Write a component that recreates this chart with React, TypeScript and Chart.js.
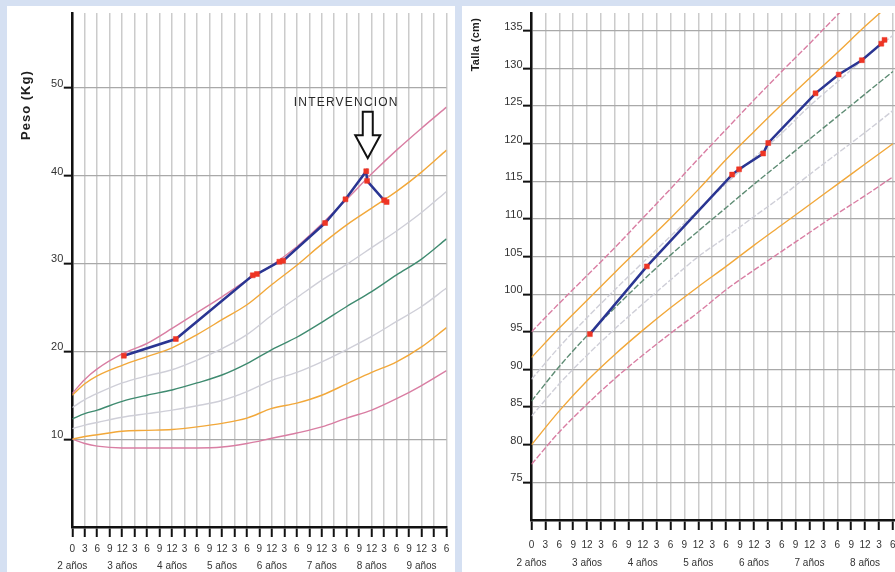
import React, { useEffect, useRef } from 'react';
import { Chart, registerables } from 'chart.js';

Chart.register(...registerables);

// ---------- Peso (kg) chart ----------
const weightMonths = [0, 3, 6, 12, 18, 24, 30, 36, 42, 48, 54, 60, 66, 72, 78, 84, 90];
const weightP97 = [15.2, 16.8, 18.0, 19.7, 20.9, 22.6, 24.4, 26.2, 28.1, 29.8, 31.9, 34.5, 37.3, 40.2, 42.9, 45.4, 47.8];
const weightP90 = [15.0, 16.3, 17.2, 18.4, 19.4, 20.4, 21.9, 23.6, 25.3, 27.6, 29.8, 32.2, 34.4, 36.3, 38.2, 40.4, 42.9];
const weightP75 = [13.6, 14.5, 15.2, 16.4, 17.2, 17.9, 19.0, 20.3, 21.9, 24.1, 26.1, 28.1, 29.9, 31.8, 33.7, 35.8, 38.2];
const weightP50 = [12.3, 12.9, 13.3, 14.3, 15.0, 15.6, 16.4, 17.3, 18.6, 20.2, 21.6, 23.3, 25.1, 26.8, 28.7, 30.5, 32.8];
const weightP25 = [11.2, 11.6, 11.9, 12.5, 12.9, 13.3, 13.8, 14.4, 15.4, 16.7, 17.6, 18.8, 20.2, 21.7, 23.4, 25.1, 27.2];
const weightP10 = [10.0, 10.3, 10.5, 10.9, 11.0, 11.1, 11.4, 11.8, 12.4, 13.5, 14.1, 15.0, 16.3, 17.6, 18.8, 20.5, 22.7];
const weightP3 = [10.0, 9.5, 9.2, 9.0, 9.0, 9.0, 9.0, 9.1, 9.5, 10.1, 10.7, 11.4, 12.4, 13.3, 14.6, 16.1, 17.8];

const patientWeightMonths = [12.4, 24.9, 43.4, 44.4, 49.8, 50.7, 60.8, 65.7, 70.7, 70.9, 75.0, 75.6];
const patientWeightKg = [19.5, 21.4, 28.65, 28.8, 30.2, 30.3, 34.6, 37.3, 40.5, 39.4, 37.2, 37.0];

const weightTickMonths = [0, 3, 6, 9, 12, 15, 18, 21, 24, 27, 30, 33, 36, 39, 42, 45, 48, 51, 54, 57, 60, 63, 66, 69, 72, 75, 78, 81, 84, 87, 90];
const weightYTicks = [10, 20, 30, 40, 50];
const weightYearLabels = ['2 años', '3 años', '4 años', '5 años', '6 años', '7 años', '8 años', '9 años'];

// ---------- Talla (cm) chart ----------
const heightMonths = [0, 6, 12, 18, 24, 30, 36, 42, 48, 54, 60, 66, 72, 78];
const heightP97 = [95.0, 98.8, 102.5, 106.2, 110.1, 114.0, 118.0, 121.9, 125.8, 129.6, 133.3, 137.1, 140.8];
const heightP90 = [91.6, 95.5, 99.2, 102.9, 106.5, 110.1, 113.9, 117.9, 121.6, 125.2, 128.7, 132.1, 135.6, 138.9];
const heightP75 = [88.7, 93.0, 96.9, 100.6, 104.2, 107.7, 111.2, 114.7, 118.1, 121.4, 125.0, 128.2, 131.4, 134.4];
const heightP50 = [85.8, 90.4, 94.5, 98.2, 101.8, 105.2, 108.4, 111.5, 114.6, 117.6, 120.6, 123.6, 126.6, 129.6];
const heightP25 = [83.8, 88.1, 91.9, 95.4, 98.7, 101.9, 105.0, 107.6, 110.3, 113.0, 115.9, 118.7, 121.5, 124.4];
const heightP10 = [80.0, 84.5, 88.5, 92.0, 95.2, 98.2, 101.0, 103.7, 106.5, 109.2, 111.9, 114.6, 117.3, 120.0];
const heightP3 = [77.4, 81.7, 85.4, 88.8, 91.9, 94.8, 97.6, 100.6, 103.2, 105.7, 108.2, 110.7, 113.1, 115.6];

const patientHeightMonths = [12.6, 24.9, 43.3, 44.8, 50.0, 51.1, 61.3, 66.3, 71.3, 75.5, 76.2];
const patientHeightCm = [94.7, 103.7, 115.9, 116.6, 118.7, 120.1, 126.7, 129.2, 131.1, 133.3, 133.8];

const heightTickMonths = [0, 3, 6, 9, 12, 15, 18, 21, 24, 27, 30, 33, 36, 39, 42, 45, 48, 51, 54, 57, 60, 63, 66, 69, 72, 75, 78];
const heightYTicks = [75, 80, 85, 90, 95, 100, 105, 110, 115, 120, 125, 130, 135];
const heightYearLabels = ['2 años', '3 años', '4 años', '5 años', '6 años', '7 años', '8 años'];

// ---------- styles ----------
const PINK = '#d97ea3';
const ORANGE = '#f2a83a';
const LIGHT = '#cfcfd8';
const GREEN = '#3f8b70';
const NAVY = '#2a3592';
const RED = '#ee3524';
const NARROW = "'Liberation Sans Narrow', 'Arial Narrow', 'Liberation Sans', Arial, sans-serif";

function pts(xs: number[], ys: number[]) {
  return ys.map((y, i) => ({ x: xs[i], y }));
}

function monthLabel(v: number, years: string[]) {
  const m = Math.round(v);
  const sub = m === 0 ? 0 : m % 12 === 0 ? 12 : m % 12;
  if (m % 12 === 0) return [String(sub), years[m / 12]];
  return String(sub);
}

function curve(data: { x: number; y: number }[], color: string, dash: number[] = []) {
  return {
    data,
    borderColor: color,
    borderWidth: 1.4,
    borderDash: dash,
    pointRadius: 0,
    cubicInterpolationMode: 'monotone' as const,
    fill: false,
    order: 1,
  };
}

function patient(data: { x: number; y: number }[]) {
  return {
    data,
    borderColor: NAVY,
    borderWidth: 2.5,
    pointStyle: 'rect' as const,
    pointRadius: 3.5,
    pointBackgroundColor: RED,
    pointBorderColor: RED,
    pointBorderWidth: 0.5,
    tension: 0,
    fill: false,
    order: 0,
  };
}

function yTitlePlugin(text: string, dx: number, dy: number, font: string, spacing: string) {
  return {
    id: 'yTitle',
    afterDraw(chart: any) {
      const { ctx, chartArea } = chart;
      ctx.save();
      ctx.translate(chartArea.left + dx, chartArea.top + dy);
      ctx.rotate(-Math.PI / 2);
      ctx.font = font;
      (ctx as any).letterSpacing = spacing;
      ctx.fillStyle = '#1e1e1e';
      ctx.textAlign = 'center';
      ctx.textBaseline = 'middle';
      ctx.fillText(text, 0, 0);
      ctx.restore();
    },
  };
}

const interventionPlugin = {
  id: 'intervention',
  afterDatasetsDraw(chart: any) {
    const { ctx, scales } = chart;
    let idx = 0;
    patientWeightKg.forEach((v, i) => {
      if (v > patientWeightKg[idx]) idx = i;
    });
    const px = scales.x.getPixelForValue(patientWeightMonths[idx]);
    const py = scales.y.getPixelForValue(patientWeightKg[idx]);
    const tx = px + 1.5;
    ctx.save();
    ctx.beginPath();
    ctx.moveTo(tx - 5, py - 59.5);
    ctx.lineTo(tx + 5, py - 59.5);
    ctx.lineTo(tx + 5, py - 36);
    ctx.lineTo(tx + 12.5, py - 36);
    ctx.lineTo(tx, py - 13);
    ctx.lineTo(tx - 12.5, py - 36);
    ctx.lineTo(tx - 5, py - 36);
    ctx.closePath();
    ctx.fillStyle = '#ffffff';
    ctx.fill();
    ctx.lineWidth = 2;
    ctx.strokeStyle = '#111';
    ctx.lineJoin = 'miter';
    ctx.stroke();
    ctx.font = '12px "Liberation Sans", Arial, sans-serif';
    (ctx as any).letterSpacing = '1.2px';
    ctx.fillStyle = '#2a2a2a';
    ctx.textAlign = 'center';
    ctx.textBaseline = 'middle';
    ctx.fillText('INTERVENCION', px - 20, py - 69);
    ctx.restore();
  },
};

function makeOptions(cfg: {
  xMax: number;
  yMin: number;
  yMax: number;
  xTicks: number[];
  yTicks: number[];
  years: string[];
  yWidth: number;
  xHeight: number;
  padRight: number;
  xPad: number;
  lineH: number;
}) {
  return {
    responsive: false,
    animation: false as const,
    events: [],
    layout: { padding: { left: 0, top: 0, right: cfg.padRight, bottom: 0 } },
    plugins: { legend: { display: false }, tooltip: { enabled: false } },
    scales: {
      x: {
        type: 'linear' as const,
        min: 0,
        max: cfg.xMax,
        afterBuildTicks: (s: any) => {
          s.ticks = cfg.xTicks.map((v) => ({ value: v }));
        },
        afterFit: (s: any) => {
          s.height = cfg.xHeight;
        },
        grid: { color: '#cbcbcb', lineWidth: 1.5, tickColor: '#111', tickWidth: 2, tickLength: 10 },
        border: { color: '#111', width: 2.5 },
        ticks: {
          autoSkip: false,
          maxRotation: 0,
          minRotation: 0,
          padding: cfg.xPad,
          color: '#333',
          font: { family: NARROW, size: 10, lineHeight: cfg.lineH },
          callback: (v: any) => monthLabel(Number(v), cfg.years),
        },
      },
      y: {
        type: 'linear' as const,
        min: cfg.yMin,
        max: cfg.yMax,
        afterBuildTicks: (s: any) => {
          s.ticks = cfg.yTicks.map((v) => ({ value: v }));
        },
        afterFit: (s: any) => {
          s.width = cfg.yWidth;
        },
        grid: { color: '#a9a9a9', lineWidth: 1.3, tickColor: '#111', tickWidth: 2, tickLength: 8.5 },
        border: { color: '#111', width: 2.5 },
        ticks: {
          padding: 0.5,
          labelOffset: -4,
          color: '#333',
          font: { family: NARROW, size: 11 },
          callback: (v: any) => String(v),
        },
      },
    },
  };
}

export default function App() {
  const leftRef = useRef<HTMLCanvasElement | null>(null);
  const rightRef = useRef<HTMLCanvasElement | null>(null);

  useEffect(() => {
    if (!leftRef.current || !rightRef.current) return;

    const left = new Chart(leftRef.current, {
      type: 'line',
      data: {
        datasets: [
          patient(pts(patientWeightMonths, patientWeightKg)),
          curve(pts(weightMonths, weightP97), PINK),
          curve(pts(weightMonths, weightP90), ORANGE),
          curve(pts(weightMonths, weightP75), LIGHT),
          curve(pts(weightMonths, weightP50), GREEN),
          curve(pts(weightMonths, weightP25), LIGHT),
          curve(pts(weightMonths, weightP10), ORANGE),
          curve(pts(weightMonths, weightP3), PINK),
        ] as any,
      },
      options: makeOptions({
        xMax: 90,
        yMin: 0,
        yMax: 58.5,
        xTicks: weightTickMonths,
        yTicks: weightYTicks,
        years: weightYearLabels,
        yWidth: 65.3,
        xHeight: 45,
        padRight: 8.5,
        xPad: 3.5,
        lineH: 1.7,
      }) as any,
      plugins: [
        yTitlePlugin('Peso (Kg)', -45.6, 92, 'bold 13px "Liberation Sans", Arial, sans-serif', '1px'),
        interventionPlugin,
      ],
    });

    const right = new Chart(rightRef.current, {
      type: 'line',
      data: {
        datasets: [
          patient(pts(patientHeightMonths, patientHeightCm)),
          curve(pts(heightMonths, heightP97), PINK, [6, 2]),
          curve(pts(heightMonths, heightP90), ORANGE),
          curve(pts(heightMonths, heightP75), LIGHT, [6, 2]),
          curve(pts(heightMonths, heightP50), '#5e8c74', [6, 2]),
          curve(pts(heightMonths, heightP25), LIGHT, [6, 2]),
          curve(pts(heightMonths, heightP10), ORANGE),
          curve(pts(heightMonths, heightP3), PINK, [6, 2]),
        ] as any,
      },
      options: makeOptions({
        xMax: 78.5,
        yMin: 70,
        yMax: 137.36,
        xTicks: heightTickMonths,
        yTicks: heightYTicks,
        years: heightYearLabels,
        yWidth: 69.5,
        xHeight: 52,
        padRight: 16.8,
        xPad: 6,
        lineH: 1.8,
      }) as any,
      plugins: [yTitlePlugin('Talla (cm)', -55.5, 31.5, 'bold 11px "Liberation Sans", Arial, sans-serif', '0.3px')],
    });

    return () => {
      left.destroy();
      right.destroy();
    };
  }, []);

  return (
    <div
      style={{
        position: 'absolute',
        left: 0,
        top: 0,
        width: 895,
        height: 572,
        background: '#d5e0f2',
        overflow: 'hidden',
      }}
    >
      <canvas
        ref={leftRef}
        width={448}
        height={566}
        style={{ position: 'absolute', left: 7, top: 6, width: 448, height: 566, background: '#fff', display: 'block' }}
      />
      <canvas
        ref={rightRef}
        width={450}
        height={566}
        style={{ position: 'absolute', left: 462, top: 6, width: 450, height: 566, background: '#fff', display: 'block' }}
      />
    </div>
  );
}
